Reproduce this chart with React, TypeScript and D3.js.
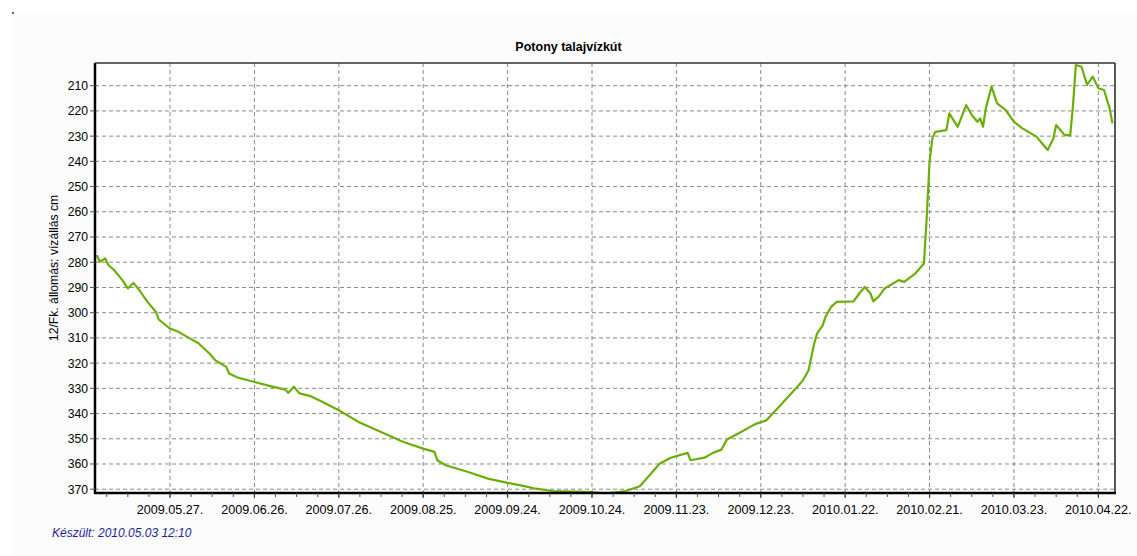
import React from "react";
import * as d3 from "d3";

const title = "Potony talajvízkút";
const yLabel = "12/Fk. állomás: vízállás cm";
const footer = "Készült: 2010.05.03 12:10";

const dates: string[] = [
  "2009-05-01","2009-05-02","2009-05-04","2009-05-05","2009-05-07","2009-05-10","2009-05-12","2009-05-14","2009-05-16","2009-05-19",
  "2009-05-22","2009-05-23","2009-05-27","2009-05-30","2009-06-03","2009-06-06","2009-06-10","2009-06-12","2009-06-16","2009-06-17",
  "2009-06-20","2009-06-26","2009-07-02","2009-07-07","2009-07-08","2009-07-10","2009-07-12","2009-07-16","2009-07-19","2009-07-26",
  "2009-08-02","2009-08-10","2009-08-18","2009-08-25","2009-08-29","2009-08-30","2009-09-02","2009-09-10","2009-09-17","2009-09-24",
  "2009-09-30","2009-10-04","2009-10-10","2009-10-24","2009-10-29","2009-11-05","2009-11-10","2009-11-14","2009-11-17","2009-11-21",
  "2009-11-27","2009-11-28","2009-12-03","2009-12-06","2009-12-09","2009-12-11","2009-12-16","2009-12-21","2009-12-25","2009-12-30",
  "2010-01-05","2010-01-07","2010-01-09","2010-01-10","2010-01-11","2010-01-12","2010-01-14","2010-01-15","2010-01-17","2010-01-19",
  "2010-01-25","2010-01-27","2010-01-29","2010-01-31","2010-02-01","2010-02-03","2010-02-05","2010-02-10","2010-02-12","2010-02-16",
  "2010-02-19","2010-02-20","2010-02-21","2010-02-22","2010-02-23","2010-02-27","2010-02-28","2010-03-03","2010-03-06","2010-03-08",
  "2010-03-10","2010-03-11","2010-03-12","2010-03-13","2010-03-15","2010-03-17","2010-03-20","2010-03-23","2010-03-26","2010-03-29",
  "2010-03-31","2010-04-02","2010-04-04","2010-04-06","2010-04-07","2010-04-10","2010-04-12","2010-04-13","2010-04-14","2010-04-16",
  "2010-04-18","2010-04-20","2010-04-22","2010-04-24","2010-04-26","2010-04-27",
];

const levels: number[] = [
  277.2, 279.8, 278.5, 281, 283, 287, 290.4, 288.2, 291, 295.7,
  299.7, 302.7, 306.3, 307.6, 310.2, 312, 316.2, 318.8, 321.5, 324.1,
  325.7, 327.5, 329.2, 330.5, 331.8, 329.4, 332, 333.1, 334.7, 338.7,
  343.3, 347.3, 351.3, 353.9, 355.2, 358.5, 360.5, 363.2, 365.8, 367.5,
  368.8, 369.8, 370.7, 371.1, 371.7, 370.7, 368.8, 363.8, 359.9, 357.5,
  355.6, 358.5, 357.5, 355.6, 354.3, 350.3, 347.3, 344.2, 342.7, 336.7,
  329.4, 326.8, 322.8, 317.5, 312.2, 308.3, 305, 301.7, 297.7, 295.7,
  295.5, 292.4, 289.8, 292.4, 295.5, 293.5, 290.4, 287.1, 287.8, 284.4,
  280.5, 262, 240, 230.9, 228.3, 227.6, 221, 226.3, 217.7, 221.6,
  224.3, 223, 226.3, 219, 210.4, 217, 219.6, 224.3, 226.9, 228.9,
  230.2, 232.9, 235.5, 230.9, 225.6, 229.6, 229.6, 217.7, 201.8, 202.5,
  209.7, 206.4, 211, 211.7, 219, 224.9,
];

const yTicks: number[] = [210, 220, 230, 240, 250, 260, 270, 280, 290, 300, 310, 320, 330, 340, 350, 360, 370];
const xTickLabels: string[] = [
  "2009.05.27.", "2009.06.26.", "2009.07.26.", "2009.08.25.", "2009.09.24.", "2009.10.24.",
  "2009.11.23.", "2009.12.23.", "2010.01.22.", "2010.02.21.", "2010.03.23.", "2010.04.22.",
];

const W = 1137;
const H = 556;
const L = 95, R = 1115, T = 63, B = 493;
const FONT = "'Liberation Sans', Arial, sans-serif";

export default function App() {
  const parseTick = d3.timeParse("%Y.%m.%d.");
  const parseDate = d3.timeParse("%Y-%m-%d");
  const tickDates = xTickLabels.map((s) => parseTick(s) as Date);

  const x = d3
    .scaleTime()
    .domain([new Date(2009, 3, 30, 8), new Date(2010, 3, 27, 22)])
    .range([L, R]);
  const y = d3.scaleLinear().domain([201, 371.5]).range([T, B]);

  const pts = dates.map((d, i) => ({ date: parseDate(d) as Date, v: levels[i] }));
  const line = d3
    .line<{ date: Date; v: number }>()
    .x((d) => x(d.date))
    .y((d) => y(d.v))
    .curve(d3.curveLinear);

  const minor: Date[] = [];
  const base = tickDates[0].getTime();
  const step = 7.5 * 24 * 3600 * 1000;
  const [d0, d1] = x.domain().map((d) => d.getTime());
  for (let k = Math.ceil((d0 - base) / step); base + k * step <= d1; k++) {
    minor.push(new Date(base + k * step));
  }

  return (
    <svg
      width={W}
      height={H}
      style={{ position: "absolute", left: 0, top: 0, background: "#ffffff" }}
      fontFamily={FONT}
    >
      <defs>
        <clipPath id="plotclip">
          <rect x={L} y={T} width={R - L} height={B - T} />
        </clipPath>
      </defs>
      <rect x={12} y={12} width={W - 12} height={H - 12} fill="#fcfcfc" />
      <rect x={12} y={12} width={2} height={2} fill="#666" />
      <rect x={L} y={T} width={R - L} height={B - T} fill="#ffffff" />

      <text x={W / 2} y={51} textAnchor="middle" fontSize={12.5} fontWeight="bold" fill="#000">
        {title}
      </text>

      {yTicks.map((t) => (
        <line key={"gy" + t} x1={L} x2={R} y1={y(t)} y2={y(t)} stroke="#8a8a8a" strokeWidth={1} strokeDasharray="4,3" />
      ))}
      {tickDates.map((d, i) => (
        <line key={"gx" + i} x1={x(d)} x2={x(d)} y1={T} y2={B} stroke="#8a8a8a" strokeWidth={1} strokeDasharray="4,3" />
      ))}

      <path d={line(pts) || ""} fill="none" stroke="#6aaf08" strokeWidth={2.2} strokeLinejoin="round" clipPath="url(#plotclip)" />

      <line x1={L} x2={R} y1={T} y2={T} stroke="#333" strokeWidth={1.5} />
      <line x1={R} x2={R} y1={T} y2={B} stroke="#222" strokeWidth={1.5} />
      <line x1={L} x2={L} y1={T} y2={B + 1} stroke="#000" strokeWidth={2.5} />
      <line x1={L - 1} x2={R + 1} y1={B} y2={B} stroke="#000" strokeWidth={2.5} />

      {yTicks.map((t) => (
        <g key={"yt" + t}>
          <line x1={L - 5} x2={L} y1={y(t)} y2={y(t)} stroke="#555" strokeWidth={1} />
          <text x={88} y={y(t)} dy="0.36em" textAnchor="end" fontSize={12.2} fill="#000">
            {t}
          </text>
        </g>
      ))}

      {minor.map((d, i) => (
        <line key={"mx" + i} x1={x(d)} x2={x(d)} y1={B} y2={B + 4} stroke="#555" strokeWidth={1} />
      ))}
      {tickDates.map((d, i) => (
        <g key={"xt" + i}>
          <line x1={x(d)} x2={x(d)} y1={B} y2={B + 5} stroke="#333" strokeWidth={1} />
          <text x={x(d)} y={514} textAnchor="middle" fontSize={12.6} fill="#000">
            {xTickLabels[i]}
          </text>
        </g>
      ))}

      <text transform={`translate(58,${(T + B) / 2 - 10}) rotate(-90)`} textAnchor="middle" fontSize={12.2} fill="#000">
        {yLabel}
      </text>

      <text x={52} y={537} fontSize={12} fontStyle="italic" fill="#1f1fa0">
        {footer}
      </text>
    </svg>
  );
}
